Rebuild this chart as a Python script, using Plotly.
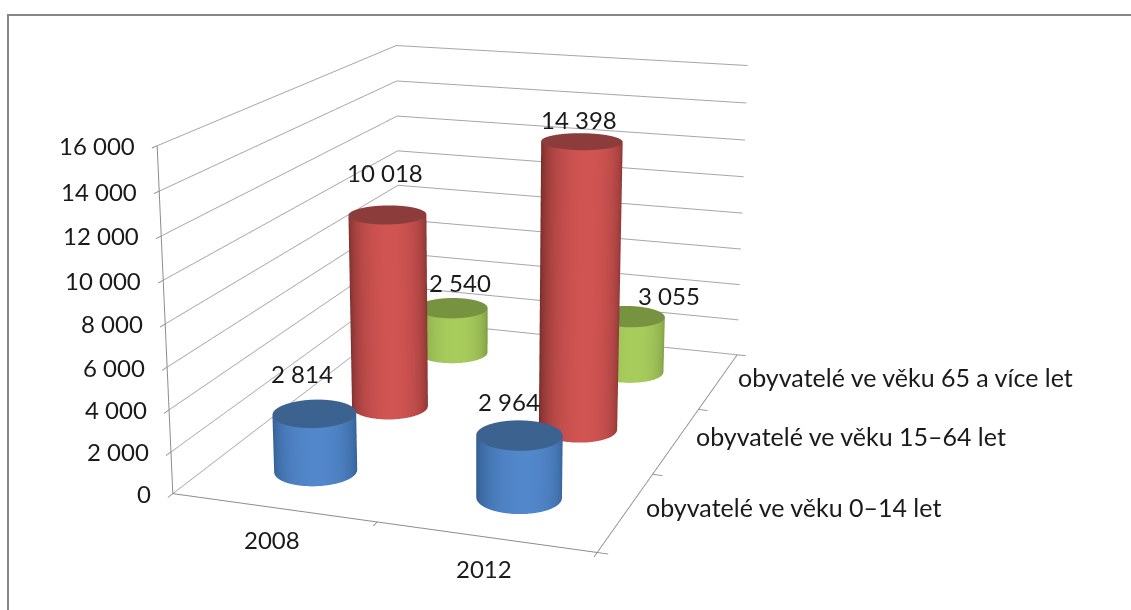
import numpy as np
import plotly.graph_objects as go

years = ["2008", "2012"]
series = ["obyvatelé ve věku 0–14 let", "obyvatelé ve věku 15–64 let", "obyvatelé ve věku 65 a více let"]
young = [2814, 2964]
middle = [10018, 14398]
old = [2540, 3055]
z_ticks = list(range(0, 16001, 2000))
z_labels = ["0", "2 000", "4 000", "6 000", "8 000", "10 000", "12 000", "14 000", "16 000"]

FIG_H = 1640
TOP_CUT = 557
ASPECT = dict(x=1.24, y=1.75, z=1.0)
EYE = dict(x=1.9, y=-5.5, z=1.62)
DARK = ["#2f5a8c", "#772d2b", "#708c3c"]
LIGHT = ["#5287cb", "#d05452", "#a8cc5c"]
CAP = ["#3c628f", "#8c3c3a", "#78933f"]
FONT = dict(family="Lato, Carlito, sans-serif", size=24, color="#1a1a1a")
FONT_LONG = dict(family="Lato, Carlito, sans-serif", size=25, color="#1a1a1a")
GREY = "#8c8c8c"
LABEL_SHIFT = [[(-12, 40), (-10, 34)], [(-2, 42), (-3, 22)], [(8, 26), (41, 21)]]

r_world = 0.12
rx = r_world * 2 / ASPECT["x"]
ry = r_world * 3 / ASPECT["y"]
theta = np.linspace(0, 2 * np.pi, 90)
view = np.arctan2(EYE["y"], EYE["x"]) + 0.1
flat = dict(ambient=1, diffuse=0, specular=0, fresnel=0, roughness=1)

fig = go.Figure()
annotations = []
for s, vals in enumerate([young, middle, old]):
    for c, v in enumerate(vals):
        cx, cy = c + 0.5, s + 0.5
        X = np.vstack([cx + rx * np.cos(theta)] * 2)
        Y = np.vstack([cy + ry * np.sin(theta)] * 2)
        Z = np.vstack([np.zeros_like(theta), np.full_like(theta, v)])
        shade = np.clip(np.cos(theta - view), 0, 1)
        fig.add_trace(go.Surface(
            x=X, y=Y, z=Z, surfacecolor=np.vstack([shade, shade]), cmin=0, cmax=1,
            colorscale=[[0, DARK[s]], [1, LIGHT[s]]], showscale=False, hoverinfo="skip", lighting=flat))
        rings = np.array([0.0, 1.0])
        fig.add_trace(go.Surface(
            x=cx + rx * np.outer(rings, np.cos(theta)), y=cy + ry * np.outer(rings, np.sin(theta)),
            z=np.full((2, theta.size), v), surfacecolor=np.zeros((2, theta.size)), cmin=0, cmax=1,
            colorscale=[[0, CAP[s]], [1, CAP[s]]], showscale=False, hoverinfo="skip", lighting=flat))
        text = f"{v:,}".replace(",", " ")
        xs, ys = LABEL_SHIFT[s][c]
        annotations.append(dict(x=cx, y=cy, z=v, text=text, showarrow=False, xshift=xs, yshift=ys, font=FONT))

for c, y in enumerate(years):
    annotations.append(dict(x=c + 0.5, y=0, z=0, text=y, showarrow=False, xshift=-1, yshift=-32, font=FONT))
for s, name in enumerate(series):
    annotations.append(dict(x=2, y=s + 0.5, z=0, text=name, showarrow=False, xanchor="left", xshift=18, yshift=4, font=FONT_LONG))
for t, label in zip(z_ticks, z_labels):
    annotations.append(dict(x=0, y=0, z=t, text=label, showarrow=False, xanchor="right", xshift=-20, font=FONT))

def axis(**kw):
    return dict(showbackground=False, showspikes=False, zeroline=False, showticklabels=False,
                title=dict(text=""), showline=True, linecolor=GREY, linewidth=2,
                ticks="outside", ticklen=8, tickcolor=GREY, tickwidth=2, **kw)

def paper_y(px):
    return 1 - (px + TOP_CUT) / FIG_H

fig.update_layout(
    width=1131, height=FIG_H, margin=dict(l=0, r=0, t=0, b=0),
    paper_bgcolor="white", showlegend=False,
    shapes=[dict(type="rect", xref="paper", yref="paper", x0=8 / 1131, x1=1.1, y0=paper_y(700), y1=paper_y(15),
                 line=dict(color="#868686", width=2))],
    scene=dict(
        domain=dict(x=[0, 0.853], y=[0, 1]),
        aspectmode="manual", aspectratio=ASPECT,
        camera=dict(eye=EYE, up=dict(x=0, y=0, z=1), center=dict(x=0, y=0, z=0)),
        xaxis=axis(range=[0, 2], tickvals=[0, 1, 2], showgrid=False),
        yaxis=axis(range=[0, 3], tickvals=[0, 1, 2, 3], showgrid=False),
        zaxis=axis(range=[0, 16000], tickvals=z_ticks, showgrid=True, gridcolor="#a6a6a6", gridwidth=2),
        annotations=annotations,
    ),
)
post = ("document.body.style.margin='0';document.documentElement.style.overflow='hidden';"
        "document.body.style.overflow='hidden';"
        f"document.getElementById('{{plot_id}}').style.marginTop='-{TOP_CUT}px';")
fig.write_html("out.html", config=dict(displayModeBar=False), post_script=post)
